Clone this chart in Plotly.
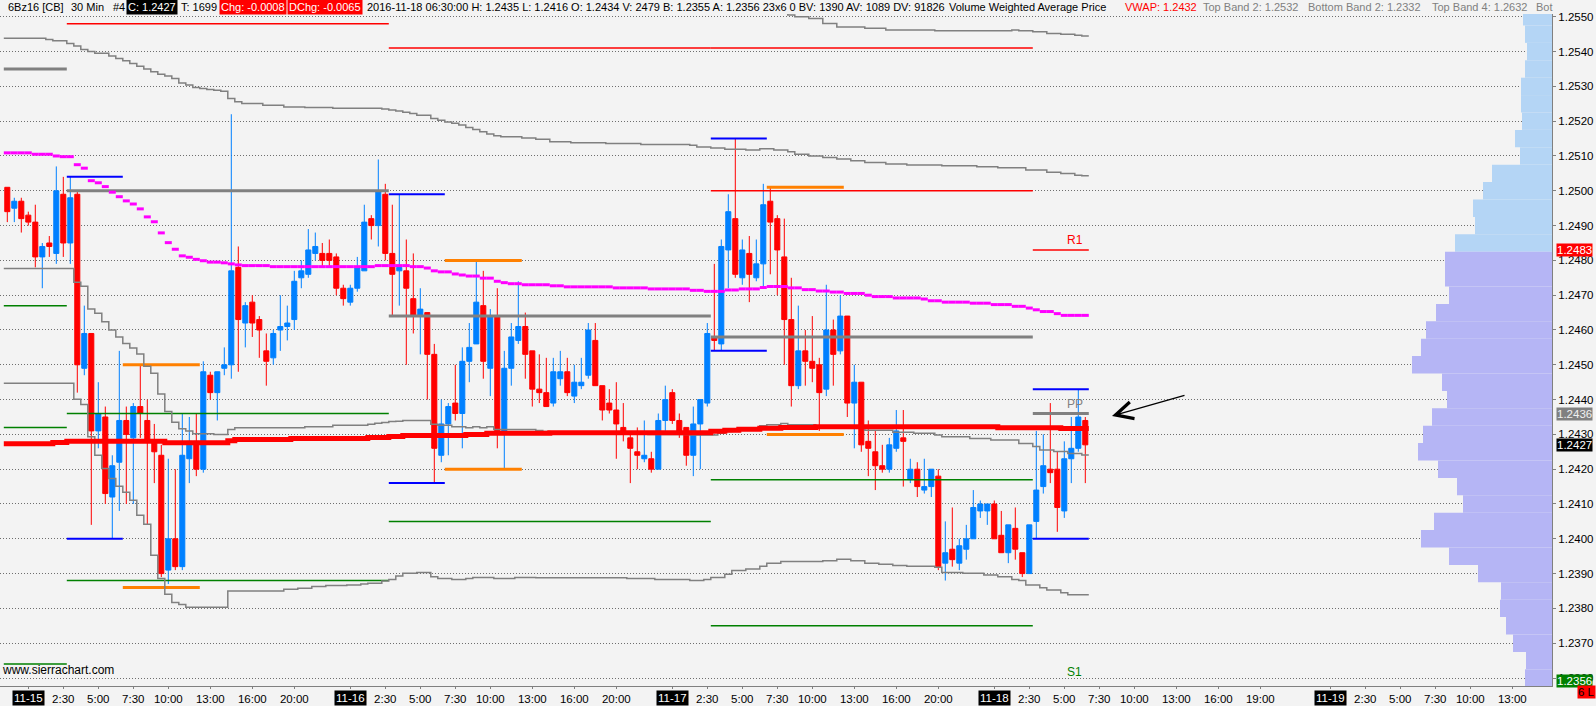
"""6B (British pound futures) 30-min chart with VWAP bands, pivots and volume profile."""
import plotly.graph_objects as go

# ---------------------------------------------------------------- data
# 30-minute bars, bar 0 is the first bar on screen, bar 154 = 2016-11-18 06:30
opens = [
    1.2501, 1.2495, 1.2497, 1.2493, 1.2491, 1.2481, 1.2485, 1.2482, 1.2499, 1.2485,
    1.2499, 1.2449, 1.2459, 1.2431, 1.2435, 1.2412, 1.2422, 1.2434, 1.2429, 1.2438,
    1.2434, 1.2428, 1.2424, 1.2391, 1.2400, 1.2392, 1.2423, 1.2428, 1.2420, 1.2447,
    1.2442, 1.2449, 1.2450, 1.2478, 1.2462, 1.2468, 1.2463, 1.2454, 1.2452, 1.2460,
    1.2461, 1.2463, 1.2475, 1.2476, 1.2482, 1.2482, 1.2482, 1.2481, 1.2472, 1.2468,
    1.2472, 1.2477, 1.2492, 1.2490, 1.2499, 1.2482, 1.2477, 1.2477, 1.2469, 1.2464,
    1.2465, 1.2453, 1.2424, 1.2433, 1.2439, 1.2436, 1.2451, 1.2456, 1.2467, 1.2449,
    1.2464, 1.2431, 1.2449, 1.2457, 1.2461, 1.2454, 1.2443, 1.2442, 1.2439, 1.2446,
    1.2448, 1.2441, 1.2444, 1.2447, 1.2457, 1.2444, 1.2439, 1.2437, 1.2432, 1.2429,
    1.2425, 1.2423, 1.2423, 1.2420, 1.2434, 1.2442, 1.2434, 1.2432, 1.2424, 1.2433,
    1.2439, 1.2458, 1.2456, 1.2483, 1.2492, 1.2475, 1.2482, 1.2475, 1.2479, 1.2497,
    1.2492, 1.2481, 1.2463, 1.2444, 1.2454, 1.2451, 1.2450, 1.2443, 1.2460, 1.2454,
    1.2464, 1.2439, 1.2445, 1.2428, 1.2425, 1.2421, 1.2420, 1.2426, 1.2429, 1.2417,
    1.2420, 1.2414, 1.2415, 1.2418, 1.2393, 1.2397, 1.2393, 1.2397, 1.2400, 1.2408,
    1.2408, 1.2410, 1.2401, 1.2396, 1.2403, 1.2396, 1.2390, 1.2405, 1.2415, 1.2420,
    1.2420, 1.2408, 1.2423, 1.2426, 1.2434,
]
highs = [
    1.2501, 1.2498, 1.2498, 1.2494, 1.2496, 1.2485, 1.2487, 1.2507, 1.2504, 1.2504,
    1.2500, 1.2467, 1.2459, 1.2445, 1.2438, 1.2424, 1.2454, 1.2438, 1.2439, 1.2450,
    1.2440, 1.2433, 1.2427, 1.2423, 1.2420, 1.2436, 1.2435, 1.2436, 1.2451, 1.2448,
    1.2448, 1.2455, 1.2522, 1.2484, 1.2468, 1.2470, 1.2464, 1.2459, 1.2460, 1.2470,
    1.2467, 1.2477, 1.2480, 1.2489, 1.2488, 1.2485, 1.2486, 1.2482, 1.2473, 1.2473,
    1.2481, 1.2496, 1.2493, 1.2509, 1.2502, 1.2496, 1.2499, 1.2486, 1.2482, 1.2472,
    1.2465, 1.2456, 1.2440, 1.2439, 1.2450, 1.2455, 1.2462, 1.2480, 1.2477, 1.2466,
    1.2472, 1.2454, 1.2462, 1.2474, 1.2465, 1.2454, 1.2453, 1.2452, 1.2452, 1.2454,
    1.2452, 1.2450, 1.2452, 1.2462, 1.2462, 1.2444, 1.2443, 1.2445, 1.2439, 1.2430,
    1.2432, 1.2434, 1.2425, 1.2436, 1.2444, 1.2443, 1.2436, 1.2432, 1.2438, 1.2440,
    1.2462, 1.2479, 1.2486, 1.2499, 1.2515, 1.2486, 1.2487, 1.2486, 1.2502, 1.2501,
    1.2493, 1.2492, 1.2475, 1.2467, 1.2460, 1.2464, 1.2452, 1.2473, 1.2463, 1.2470,
    1.2464, 1.2450, 1.2445, 1.2434, 1.2431, 1.2427, 1.2429, 1.2437, 1.2437, 1.2423,
    1.2422, 1.2423, 1.2420, 1.2420, 1.2405, 1.2409, 1.2400, 1.2404, 1.2414, 1.2411,
    1.2410, 1.2411, 1.2408, 1.2404, 1.2409, 1.2396, 1.2404, 1.2431, 1.2430, 1.2439,
    1.2425, 1.2428, 1.2435, 1.2443, 1.2435,
]
lows = [
    1.2491, 1.2491, 1.2488, 1.2490, 1.2478, 1.2472, 1.2481, 1.2479, 1.2481, 1.2479,
    1.2442, 1.2447, 1.2404, 1.2426, 1.2410, 1.2400, 1.2408, 1.2410, 1.2410, 1.2429,
    1.2404, 1.2416, 1.2389, 1.2387, 1.2391, 1.2391, 1.2416, 1.2418, 1.2419, 1.2440,
    1.2434, 1.2447, 1.2446, 1.2448, 1.2455, 1.2458, 1.2452, 1.2444, 1.2450, 1.2454,
    1.2457, 1.2460, 1.2472, 1.2475, 1.2480, 1.2478, 1.2478, 1.2470, 1.2467, 1.2467,
    1.2471, 1.2477, 1.2486, 1.2484, 1.2480, 1.2464, 1.2467, 1.2450, 1.2459, 1.2453,
    1.2440, 1.2416, 1.2422, 1.2424, 1.2434, 1.2426, 1.2445, 1.2456, 1.2446, 1.2441,
    1.2426, 1.2420, 1.2444, 1.2456, 1.2446, 1.2438, 1.2439, 1.2438, 1.2438, 1.2444,
    1.2441, 1.2439, 1.2443, 1.2446, 1.2444, 1.2434, 1.2436, 1.2423, 1.2428, 1.2416,
    1.2420, 1.2422, 1.2419, 1.2420, 1.2431, 1.2433, 1.2429, 1.2421, 1.2418, 1.2420,
    1.2438, 1.2454, 1.2454, 1.2472, 1.2475, 1.2473, 1.2468, 1.2474, 1.2472, 1.2476,
    1.2470, 1.2450, 1.2438, 1.2443, 1.2444, 1.2445, 1.2431, 1.2441, 1.2444, 1.2453,
    1.2435, 1.2426, 1.2425, 1.2418, 1.2414, 1.2419, 1.2419, 1.2425, 1.2415, 1.2416,
    1.2412, 1.2413, 1.2412, 1.2391, 1.2388, 1.2392, 1.2391, 1.2394, 1.2400, 1.2406,
    1.2404, 1.2400, 1.2396, 1.2393, 1.2394, 1.2389, 1.2390, 1.2400, 1.2413, 1.2416,
    1.2402, 1.2406, 1.2416, 1.2425, 1.2416,
]
closes = [
    1.2494, 1.2497, 1.2492, 1.2491, 1.2481, 1.2484, 1.2484, 1.2500, 1.2485, 1.2498,
    1.2450, 1.2459, 1.2431, 1.2436, 1.2413, 1.2421, 1.2434, 1.2430, 1.2438, 1.2436,
    1.2428, 1.2425, 1.2390, 1.2400, 1.2392, 1.2424, 1.2428, 1.2420, 1.2448, 1.2442,
    1.2448, 1.2450, 1.2477, 1.2463, 1.2467, 1.2462, 1.2460, 1.2451, 1.2459, 1.2461,
    1.2462, 1.2474, 1.2477, 1.2483, 1.2484, 1.2480, 1.2480, 1.2472, 1.2469, 1.2472,
    1.2478, 1.2491, 1.2490, 1.2500, 1.2482, 1.2476, 1.2478, 1.2472, 1.2464, 1.2466,
    1.2453, 1.2426, 1.2433, 1.2438, 1.2436, 1.2451, 1.2455, 1.2468, 1.2451, 1.2464,
    1.2431, 1.2449, 1.2458, 1.2461, 1.2453, 1.2443, 1.2442, 1.2438, 1.2448, 1.2448,
    1.2442, 1.2445, 1.2445, 1.2460, 1.2444, 1.2437, 1.2437, 1.2433, 1.2430, 1.2426,
    1.2424, 1.2424, 1.2420, 1.2434, 1.2440, 1.2434, 1.2431, 1.2424, 1.2433, 1.2440,
    1.2459, 1.2457, 1.2484, 1.2494, 1.2476, 1.2483, 1.2476, 1.2479, 1.2496, 1.2491,
    1.2483, 1.2463, 1.2444, 1.2454, 1.2451, 1.2449, 1.2442, 1.2460, 1.2453, 1.2464,
    1.2439, 1.2445, 1.2427, 1.2426, 1.2421, 1.2420, 1.2427, 1.2431, 1.2428, 1.2420,
    1.2415, 1.2415, 1.2420, 1.2392, 1.2396, 1.2394, 1.2398, 1.2400, 1.2409, 1.2410,
    1.2410, 1.2400, 1.2396, 1.2404, 1.2397, 1.2390, 1.2404, 1.2414, 1.2421, 1.2419,
    1.2409, 1.2423, 1.2426, 1.2435, 1.2427,
]
N_BARS = len(closes)

# step studies: (first bar, value) break points
vwap_steps = [
    (0, 1.24273), (7, 1.24277), (9, 1.24280), (23, 1.24276), (32, 1.24282), (33, 1.24285),
    (41, 1.24288), (52, 1.24291), (55, 1.24294), (57, 1.24297), (66, 1.24300), (69, 1.24303),
    (78, 1.24305), (101, 1.24309), (103, 1.24312), (105, 1.24315), (108, 1.24318),
    (111, 1.24320), (116, 1.24322), (142, 1.24319), (151, 1.24317),
]
ma_steps = [
    (0, 1.25109), (4, 1.25105), (7, 1.25100), (8, 1.25098), (10, 1.25075), (11, 1.25065),
    (12, 1.25029), (13, 1.25023), (14, 1.25012), (15, 1.24996), (16, 1.24983), (17, 1.24971),
    (18, 1.24962), (19, 1.24948), (20, 1.24925), (21, 1.24911), (22, 1.24879), (23, 1.24851),
    (24, 1.24832), (25, 1.24813), (26, 1.24809), (27, 1.24803), (28, 1.24799), (29, 1.24795),
    (31, 1.24793), (32, 1.24790), (33, 1.24787), (34, 1.24785), (38, 1.24782), (53, 1.24785),
    (58, 1.24782), (60, 1.24778), (61, 1.24770), (62, 1.24767), (64, 1.24761), (65, 1.24758),
    (66, 1.24755), (68, 1.24749), (70, 1.24740), (71, 1.24736), (72, 1.24733), (74, 1.24730),
    (78, 1.24727), (80, 1.24724), (87, 1.24721), (92, 1.24718), (98, 1.24714), (100, 1.24711),
    (103, 1.24715), (105, 1.24718), (108, 1.24722), (109, 1.24725), (112, 1.24721),
    (114, 1.24716), (116, 1.24712), (118, 1.24709), (120, 1.24705), (123, 1.24700),
    (124, 1.24696), (127, 1.24692), (131, 1.24689), (132, 1.24684), (134, 1.24680),
    (138, 1.24677), (141, 1.24673), (144, 1.24668), (146, 1.24663), (147, 1.24658),
    (148, 1.24653), (150, 1.24647), (151, 1.24642),
]
band_top = [
    (0, 1.25438), (6, 1.25435), (7, 1.25431), (9, 1.25423), (10, 1.25416), (11, 1.25406),
    (12, 1.25400), (13, 1.25395), (15, 1.25387), (16, 1.25380), (17, 1.25374), (18, 1.25366),
    (19, 1.25358), (20, 1.25350), (21, 1.25342), (22, 1.25335), (23, 1.25330), (24, 1.25323),
    (25, 1.25310), (26, 1.25304), (27, 1.25297), (28, 1.25294), (29, 1.25291), (30, 1.25289),
    (31, 1.25286), (32, 1.25265), (33, 1.25256), (34, 1.25251), (37, 1.25246), (40, 1.25241),
    (43, 1.25239), (47, 1.25237), (54, 1.25235), (55, 1.25232), (56, 1.25229), (57, 1.25226),
    (58, 1.25222), (59, 1.25217), (61, 1.25208), (62, 1.25203), (63, 1.25198), (64, 1.25194),
    (65, 1.25189), (66, 1.25182), (67, 1.25176), (68, 1.25170), (69, 1.25163), (70, 1.25158),
    (71, 1.25155), (74, 1.25152), (76, 1.25148), (78, 1.25141), (81, 1.25138), (86, 1.25136),
    (91, 1.25133), (98, 1.25131), (99, 1.25126), (101, 1.25123), (103, 1.25119),
    (106, 1.25117), (108, 1.25121), (110, 1.25117), (112, 1.25112), (113, 1.25105),
    (115, 1.25100), (117, 1.25096), (119, 1.25091), (121, 1.25086), (123, 1.25081),
    (126, 1.25077), (129, 1.25074), (134, 1.25072), (139, 1.25069), (142, 1.25066),
    (146, 1.25060), (149, 1.25053), (151, 1.25050), (153, 1.25045), (154, 1.25043),
]
band_top_outer = [
    (101, 1.25512), (112, 1.25505), (113, 1.25500), (115, 1.25495), (117, 1.25481),
    (119, 1.25471), (123, 1.25467), (126, 1.25462), (133, 1.25460), (144, 1.25462),
    (145, 1.25460), (147, 1.25457), (149, 1.25452), (151, 1.25450), (153, 1.25447),
    (154, 1.25445),
]
band_mid = [
    (0, 1.24777), (10, 1.24737), (11, 1.24726), (12, 1.24660), (13, 1.24648), (14, 1.24624),
    (15, 1.24600), (16, 1.24580), (17, 1.24561), (18, 1.24548), (19, 1.24531), (20, 1.24496),
    (21, 1.24476), (22, 1.24416), (23, 1.24366), (24, 1.24335), (25, 1.24316), (26, 1.24310),
    (27, 1.24302), (30, 1.24300), (32, 1.24314), (33, 1.24319), (43, 1.24322), (47, 1.24326),
    (52, 1.24329), (53, 1.24332), (54, 1.24334), (55, 1.24337), (56, 1.24338), (57, 1.24340),
    (61, 1.24329), (62, 1.24326), (64, 1.24322), (66, 1.24319), (67, 1.24322), (68, 1.24319),
    (69, 1.24322), (70, 1.24314), (76, 1.24311), (77, 1.24308), (78, 1.24306), (88, 1.24303),
    (92, 1.24300), (98, 1.24298), (102, 1.24303), (103, 1.24308), (104, 1.24312),
    (106, 1.24318), (108, 1.24325), (109, 1.24328), (111, 1.24331), (112, 1.24328),
    (116, 1.24325), (120, 1.24322), (123, 1.24312), (127, 1.24306), (130, 1.24303),
    (133, 1.24298), (134, 1.24293), (138, 1.24288), (141, 1.24284), (145, 1.24274),
    (147, 1.24265), (148, 1.24255), (150, 1.24251), (152, 1.24245), (154, 1.24241),
]
band_low = [
    (0, 1.24447), (10, 1.24401), (11, 1.24386), (12, 1.24293), (13, 1.24240), (14, 1.24202),
    (15, 1.24173), (16, 1.24151), (17, 1.24134), (18, 1.24111), (19, 1.24068), (20, 1.24042),
    (21, 1.23953), (22, 1.23886), (23, 1.23841), (24, 1.23817), (25, 1.23811), (26, 1.23803),
    (32, 1.23850), (40, 1.23855), (42, 1.23858), (44, 1.23863), (46, 1.23866), (49, 1.23867),
    (51, 1.23870), (52, 1.23872), (54, 1.23879), (55, 1.23883), (56, 1.23893), (57, 1.23901),
    (59, 1.23903), (61, 1.23891), (62, 1.23886), (64, 1.23883), (66, 1.23886), (67, 1.23889),
    (70, 1.23886), (73, 1.23889), (76, 1.23888), (89, 1.23886), (93, 1.23883), (98, 1.23880),
    (100, 1.23883), (101, 1.23889), (103, 1.23898), (104, 1.23909), (106, 1.23913),
    (108, 1.23921), (109, 1.23930), (111, 1.23935), (117, 1.23937), (119, 1.23941),
    (121, 1.23937), (123, 1.23930), (125, 1.23927), (127, 1.23923), (129, 1.23921),
    (133, 1.23918), (134, 1.23903), (137, 1.23901), (140, 1.23896), (142, 1.23891),
    (144, 1.23883), (145, 1.23880), (146, 1.23867), (148, 1.23859), (149, 1.23853),
    (151, 1.23845), (152, 1.23839),
]

# session levels: (start, end, price), ends on half-bar edges
resistance_levels = [
    (8.5, 54.5, 1.2548), (54.5, 100.5, 1.2541), (100.5, 146.5, 1.2541),
    (100.5, 146.5, 1.2500), (146.5, 154.5, 1.2483),
]
pivot_levels = [
    (-0.5, 8.5, 1.2535), (8.5, 54.5, 1.2500), (54.5, 100.5, 1.2464),
    (100.5, 146.5, 1.2458), (146.5, 154.5, 1.2436),
]
support_levels = [
    (-0.5, 8.5, 1.2467), (-0.5, 8.5, 1.2432), (-0.5, 8.5, 1.2364),
    (8.5, 54.5, 1.2436), (8.5, 54.5, 1.2388), (54.5, 100.5, 1.2405),
    (100.5, 146.5, 1.2417), (100.5, 146.5, 1.2375),
]
opening_range = [
    (8.5, 16.5, 1.2504), (8.5, 16.5, 1.2400), (54.5, 62.5, 1.2499), (54.5, 62.5, 1.2416),
    (100.5, 108.5, 1.2515), (100.5, 108.5, 1.2454), (146.5, 154.5, 1.2443),
    (146.5, 154.5, 1.2400),
]
second_range = [
    (16.5, 27.5, 1.2450), (16.5, 27.5, 1.2386), (62.5, 73.5, 1.2480), (62.5, 73.5, 1.2420),
    (108.5, 119.5, 1.2501), (108.5, 119.5, 1.2430),
]

# volume profile rows
profile_price = [
    1.2550, 1.2545, 1.2540, 1.2535, 1.2530, 1.2525, 1.2520, 1.2515, 1.2510, 1.2505,
    1.2500, 1.2495, 1.2490, 1.2485, 1.2480, 1.2475, 1.2470, 1.2465, 1.2460, 1.2455,
    1.2450, 1.2445, 1.2440, 1.2435, 1.2430, 1.2425, 1.2420, 1.2415, 1.2410, 1.2405,
    1.2400, 1.2395, 1.2390, 1.2385, 1.2380, 1.2375, 1.2370, 1.2365, 1.2360,
]
profile_volume = [
    29, 27, 25, 27, 31, 31, 30, 37, 32, 60,
    69, 79, 77, 97, 107, 107, 103, 116, 126, 131,
    140, 110, 105, 120, 129, 134, 114, 95, 89, 118,
    131, 103, 74, 51, 52, 46, 39, 26, 27,
]
profile_split = 1.24825

price_ticks = [
    1.2360, 1.2370, 1.2380, 1.2390, 1.2400, 1.2410, 1.2420, 1.2430, 1.2440, 1.2450,
    1.2460, 1.2470, 1.2480, 1.2490, 1.2500, 1.2510, 1.2520, 1.2530, 1.2540, 1.2550,
]
time_tick_bars = [
    8, 13, 18, 23, 29, 35, 41,
    54, 59, 64, 69, 75, 81, 87,
    100, 105, 110, 115, 121, 127, 133,
    146, 151, 156, 161, 167, 173, 179,
    194, 199, 204, 209, 215,
]
time_tick_text = [
    "2:30", "5:00", "7:30", "10:00", "13:00", "16:00", "20:00",
    "2:30", "5:00", "7:30", "10:00", "13:00", "16:00", "20:00",
    "2:30", "5:00", "7:30", "10:00", "13:00", "16:00", "20:00",
    "2:30", "5:00", "7:30", "10:00", "13:00", "16:00", "19:00",
    "2:30", "5:00", "7:30", "10:00", "13:00",
]
date_tick_bars = [3, 49, 95, 141, 189]
date_tick_text = ["11-15", "11-16", "11-17", "11-18", "11-19"]

# --------------------------------------------------------------- layout
W, H = 1596, 706
M_R, M_T, M_B = 44, 14, 20
PLOT_W = W - M_R
PLOT_H = H - M_T - M_B
BAR0_PX, BAR_PX = 7.3, 7.0
X_RANGE = [-BAR0_PX / BAR_PX, (PLOT_W - BAR0_PX) / BAR_PX]
Y_RANGE = [1.23577, 1.25508]
LAST_EDGE = N_BARS - 0.5

BG = "#f3f3f3"
UP, DOWN = "#0080ff", "#ff0000"
AXIS_FONT = dict(family="Liberation Sans, Arial, sans-serif", size=11.5, color="black")
HEAD_FONT = "Liberation Sans, Arial, sans-serif"


def px_x(px):
    return px / PLOT_W


def px_y(py):
    return (H - M_B - py) / PLOT_H


def stairs(breaks):
    xs = [b - 0.5 for b, _ in breaks] + [LAST_EDGE]
    ys = [v for _, v in breaks] + [breaks[-1][1]]
    return xs, ys


def per_bar_dashes(breaks):
    xs, ys, k = [], [], 0
    for i in range(breaks[0][0], N_BARS):
        while k + 1 < len(breaks) and breaks[k + 1][0] <= i:
            k += 1
        xs += [i - 0.5, i + 0.5, None]
        ys += [breaks[k][1], breaks[k][1], None]
    return xs, ys


def segments(levels):
    xs, ys = [], []
    for s, e, p in levels:
        xs += [s, e, None]
        ys += [p, p, None]
    return xs, ys


fig = go.Figure()

# volume profile, drawn from the price scale leftwards
fig.add_trace(go.Bar(
    x=profile_volume, y=profile_price, orientation="h", xaxis="x2",
    width=0.0005, marker_line_width=0,
    marker_color=["#b4d5f5" if p > profile_split else "#b5b5f5" for p in profile_price],
    hoverinfo="skip", showlegend=False,
))

fig.add_trace(go.Candlestick(
    x=list(range(N_BARS)), open=opens, high=highs, low=lows, close=closes,
    increasing=dict(line=dict(color=UP, width=1), fillcolor=UP),
    decreasing=dict(line=dict(color=DOWN, width=1), fillcolor=DOWN),
    whiskerwidth=0, hoverinfo="skip", showlegend=False,
))

for levels, color, width in [
    (resistance_levels, "#ff0000", 1.5),
    (support_levels, "#008000", 1.5),
    (opening_range, "#0000ff", 2),
    (second_range, "#ff8000", 3),
    (pivot_levels, "#808080", 3),
]:
    lx, ly = segments(levels)
    fig.add_trace(go.Scatter(x=lx, y=ly, mode="lines", line=dict(color=color, width=width),
                             hoverinfo="skip", showlegend=False))

for band in (band_top, band_top_outer, band_mid, band_low):
    bx, by = stairs(band)
    fig.add_trace(go.Scatter(x=bx, y=by, mode="lines", line=dict(color="#808080", width=1.5, shape="hv"),
                             hoverinfo="skip", showlegend=False))

mx, my = per_bar_dashes(ma_steps)
fig.add_trace(go.Scatter(x=mx, y=my, mode="lines", line=dict(color="#ff00ff", width=3),
                         hoverinfo="skip", showlegend=False))

vx, vy = stairs(vwap_steps)
fig.add_trace(go.Scatter(x=vx, y=vy, mode="lines", line=dict(color="#ff0000", width=5, shape="hv"),
                         hoverinfo="skip", showlegend=False))

ann = []

# header line
header = [
    (6, "6Bz16 [CB]", "black", None), (69, "30 Min", "black", None), (111, "#4", "black", None),
    (126, "C: 1.2427", "white", "black"), (179, "T: 1699", "black", None),
    (219, "Chg: -0.0008", "white", "#ff0000"), (287, "DChg: -0.0065", "white", "#ff0000"),
    (365, "2016-11-18 06:30:00 H: 1.2435 L: 1.2416 O: 1.2434 V: 2479 B: 1.2355 "
          "A: 1.2356 23x6 0 BV: 1390 AV: 1089 DV: 91826", "black", None),
    (947, "Volume Weighted Average Price", "black", None),
    (1123, "VWAP: 1.2432", "#ff0000", None),
    (1201, "Top Band 2: 1.2532", "#808080", None),
    (1306, "Bottom Band 2: 1.2332", "#808080", None),
    (1430, "Top Band 4: 1.2632", "#808080", None),
    (1534, "Bot", "#808080", None),
]
for x0, text, color, bg in header:
    ann.append(dict(x=px_x(x0), y=1, xref="paper", yref="paper", xanchor="left", yanchor="bottom",
                    text=text, showarrow=False, font=dict(family=HEAD_FONT, size=11, color=color),
                    bgcolor=bg if bg else "rgba(0,0,0,0)", borderpad=1, yshift=-1))

# dates on the time scale
for b, t in zip(date_tick_bars, date_tick_text):
    ann.append(dict(x=b, y=0, xref="x", yref="paper", yanchor="top", yshift=-4,
                    text=t, showarrow=False, font=dict(AXIS_FONT, color="white"),
                    bgcolor="black", borderpad=1))

# price scale markers
for price, text, bg, fg in [
    (1.2483, "1.2483", "#ff0000", "white"),
    (1.2436, "1.2436", "#808080", "#f0f0f0"),
    (1.2427, "1.2427", "black", "white"),
]:
    ann.append(dict(x=1, y=price, xref="paper", yref="y", xanchor="left", xshift=4,
                    text=text, showarrow=False, font=dict(AXIS_FONT, color=fg),
                    bgcolor=bg, borderpad=0))
ann.append(dict(x=1, y=px_y(688), xref="paper", yref="paper", xanchor="left", xshift=4,
                text="1.2356", showarrow=False, font=dict(AXIS_FONT, color="white"),
                bgcolor="#008000", borderpad=0))
ann.append(dict(x=px_x(1596), y=px_y(699), xref="paper", yref="paper", xanchor="right",
                text="6 L", showarrow=False, font=dict(AXIS_FONT, color="black"),
                bgcolor="#ff0000", borderpad=0))

# level labels
ann.append(dict(x=152.5, y=1.2483, xref="x", yref="y", yanchor="bottom", yshift=1,
                text="R1", showarrow=False, font=dict(AXIS_FONT, size=12, color="#ff0000")))
ann.append(dict(x=152.5, y=1.2436, xref="x", yref="y", yanchor="bottom", yshift=1,
                text="PP", showarrow=False, font=dict(AXIS_FONT, size=12, color="#808080")))
ann.append(dict(x=152.5, y=px_y(681), xref="x", yref="paper",
                text="S1", showarrow=False, font=dict(AXIS_FONT, size=12, color="#008000")))

ann.append(dict(x=px_x(0), y=px_y(679), xref="paper", yref="paper", xanchor="left",
                text="www.sierrachart.com", showarrow=False,
                font=dict(family=HEAD_FONT, size=12, color="black")))

# hand-drawn arrow
ann.append(dict(x=px_x(1112), y=px_y(416), xref="paper", yref="paper", ax=74, ay=-21,
                text="", showarrow=True, arrowhead=5, arrowsize=2.6, arrowwidth=1.3,
                arrowcolor="black"))

fig.update_layout(
    width=W, height=H,
    margin=dict(l=0, r=M_R, t=M_T, b=M_B, pad=0),
    paper_bgcolor=BG, plot_bgcolor=BG,
    boxgap=0.28, boxgroupgap=0,
    xaxis=dict(range=X_RANGE, showgrid=False, zeroline=False, rangeslider=dict(visible=False),
               tickmode="array", tickvals=time_tick_bars + date_tick_bars,
               ticktext=time_tick_text + [""] * len(date_tick_bars),
               ticks="outside", ticklen=2, tickcolor="#808080", tickfont=AXIS_FONT,
               showline=True, linecolor="#808080", linewidth=1),
    xaxis2=dict(range=[PLOT_W, 0], overlaying="x", visible=False),
    yaxis=dict(range=Y_RANGE, side="right", tickmode="array", tickvals=price_ticks,
               ticktext=[f"{p:.4f}" for p in price_ticks], tickfont=AXIS_FONT,
               ticks="outside", ticklen=3, tickcolor="#808080",
               showgrid=True, gridcolor="#6e6e6e", griddash="1px,2px", gridwidth=1,
               zeroline=False, showline=True, linecolor="#808080", linewidth=1, mirror=True),
    annotations=ann,
    hovermode=False,
)

# the page's default body margin would push the chart 8px off the window
fig.write_html("out.html", config={"displayModeBar": False},
               post_script="document.body.style.margin = '0';")
